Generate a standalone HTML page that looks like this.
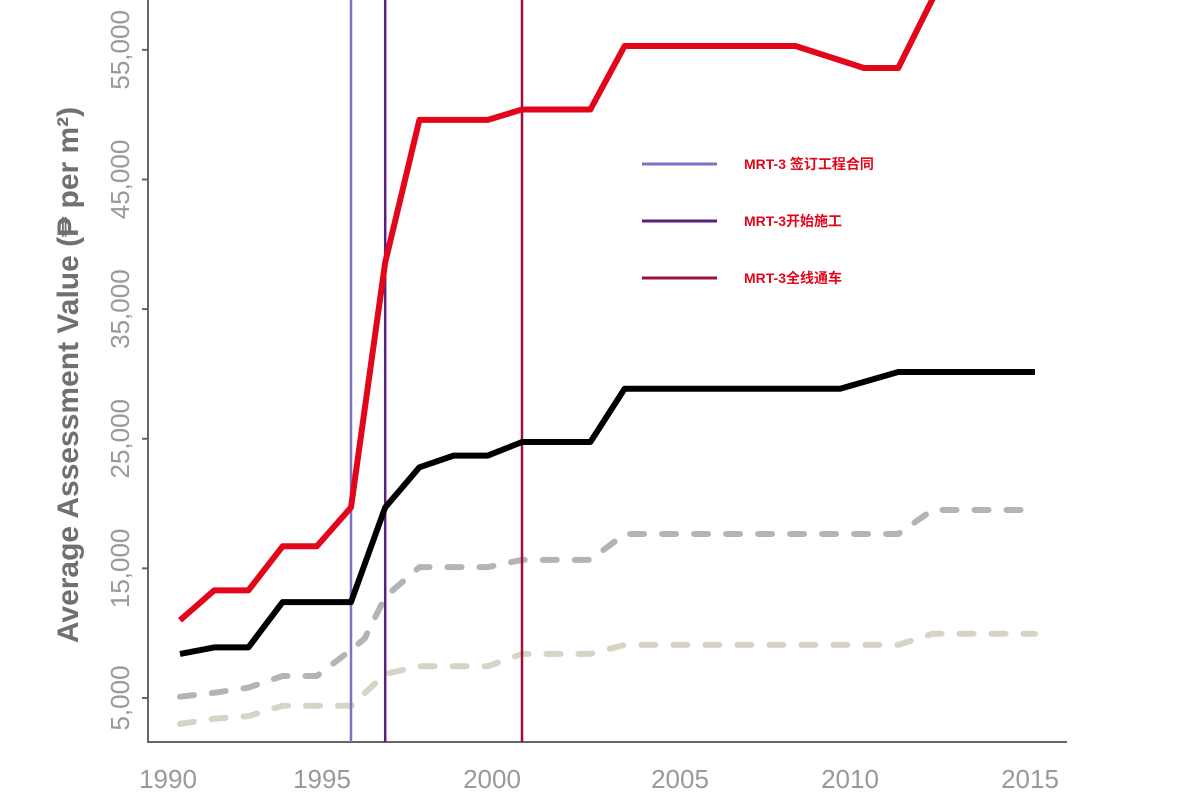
<!DOCTYPE html>
<html><head><meta charset="utf-8"><style>
html,body{margin:0;padding:0;background:#fff;}
svg{display:block;}
</style></head><body>
<svg id="chart" width="1194" height="796" xmlns="http://www.w3.org/2000/svg">
<defs><clipPath id="plotclip"><rect x="148" y="0" width="1000" height="742"/></clipPath></defs>
<g id="yaxis"></g>
<g id="xaxis"></g>
<g id="plot" clip-path="url(#plotclip)"></g>
<g id="legend"></g>
<text transform="translate(78,375) rotate(-90)" text-anchor="middle" font-family="Liberation Sans, sans-serif" font-size="30" font-weight="bold" fill="#707070">Average Assessment Value (₱ per m²)</text>
</svg>
<script>
const yTicks = [5000, 15000, 25000, 35000, 45000, 55000];
const yTickLabels = ["5,000", "15,000", "25,000", "35,000", "45,000", "55,000"];
const xTicks = [1990, 1995, 2000, 2005, 2010, 2015];
const xTickLabels = ["1990", "1995", "2000", "2005", "2010", "2015"];
const redYears = [1990, 1991, 1992, 1993, 1994, 1995, 1996, 1997, 1999, 2000, 2002, 2003, 2008, 2010, 2011, 2012, 2013];
const redValues = [11000, 13300, 13300, 16700, 16700, 19700, 38600, 49600, 49600, 50400, 50400, 55300, 55300, 53600, 53600, 58900, 64000];
const blackYears = [1990, 1991, 1992, 1993, 1994, 1995, 1996, 1997, 1998, 1999, 2000, 2002, 2003, 2009.3, 2011, 2015];
const blackValues = [8400, 8900, 8900, 12400, 12400, 12400, 19700, 22800, 23700, 23700, 24750, 24750, 28850, 28850, 30150, 30150];
const grayYears = [1990, 1991, 1992, 1993, 1994, 1995, 1995.4, 1996, 1997, 1999, 2000, 2002, 2003, 2011, 2012, 2015];
const grayValues = [5100, 5400, 5800, 6700, 6700, 8700, 9600, 12800, 15100, 15100, 15650, 15650, 17650, 17650, 19500, 19500];
const beigeYears = [1990, 1991, 1992, 1993, 1994, 1995, 1996, 1997, 1999, 2000, 2002, 2003, 2011, 2012, 2015];
const beigeValues = [3000, 3400, 3600, 4400, 4400, 4400, 6850, 7450, 7450, 8400, 8400, 9100, 9100, 9950, 9950];
const eventYears = [1995, 1996, 2000];
const eventLabels = ["MRT-3 签订工程合同", "MRT-3开始施工", "MRT-3全线通车"];
const eventColors = ["#8070c0", "#5a2080", "#9a1040"];

const NS = "http://www.w3.org/2000/svg";
function xs(yr){ return 180 + (yr - 1990) * 34.2; }
function ys(v){ return 698 - (v - 5000) * 0.012963; }
function mk(tag, attrs, parent){
  const e = document.createElementNS(NS, tag);
  for (const k in attrs) e.setAttribute(k, attrs[k]);
  parent.appendChild(e); return e;
}
const yaxis = document.getElementById('yaxis'), xaxis = document.getElementById('xaxis');
const plot = document.getElementById('plot'), legend = document.getElementById('legend');
const font = "Liberation Sans, sans-serif";

let l = mk('line', {x1:148, y1:0, x2:148, y2:743, stroke:'#666', 'stroke-width':2}, yaxis);


l = mk('line', {x1:147, y1:742, x2:1067, y2:742, stroke:'#666', 'stroke-width':2}, xaxis);



yTicks.forEach((v, i) => {
  const y = ys(v);
  const t = mk('line', {x1:142, y1:y, x2:148, y2:y, stroke:'#666', 'stroke-width':2}, yaxis);
  
  
  const tx = mk('text', {transform:`translate(129,${y}) rotate(-90)`, 'text-anchor':'middle', 'font-family':font, 'font-size':26, fill:'#999'}, yaxis);
  tx.textContent = yTickLabels[i];
  
  
});
const xLabelOffsets = [-12, -29, -30, -13, -14, -5];
xTicks.forEach((yr, i) => {
  const tx = mk('text', {x: xs(yr) + xLabelOffsets[i], y:788, 'text-anchor':'middle', 'font-family':font, 'font-size':26, fill:'#999'}, xaxis);
  tx.textContent = xTickLabels[i];
  
  
});

function series(years, vals, color, dash, name){
  const d = years.map((yr, i) => (i ? 'L' : 'M') + xs(yr).toFixed(1) + ',' + ys(vals[i]).toFixed(1)).join(' ');
  const p = mk('path', {d, fill:'none', stroke:color, 'stroke-width':6, 'stroke-linejoin':'round', 'stroke-linecap': dash ? 'round' : 'butt'}, plot);
  if (dash) p.setAttribute('stroke-dasharray', dash);
  
  
}
series(beigeYears, beigeValues, '#d8d4c4', '14 18', 'beige-dashed-series');
series(grayYears, grayValues, '#b4b4b8', '14 18', 'gray-dashed-series');
eventYears.forEach((yr, i) => {
  const v = mk('line', {x1:xs(yr), y1:0, x2:xs(yr), y2:742, stroke:eventColors[i], 'stroke-width':2.5}, plot);
  
  
});
series(blackYears, blackValues, '#000', null, 'black-series');
series(redYears, redValues, '#e3061a', null, 'red-series');

const legendY = [164, 221, 278];
eventLabels.forEach((lab, i) => {
  const ln = mk('line', {x1:642, y1:legendY[i], x2:717, y2:legendY[i], stroke:eventColors[i], 'stroke-width':3}, legend);
  
  
  const tx = mk('text', {x:744, y:legendY[i] + 5, 'font-family':'Liberation Sans, Noto Sans CJK SC, sans-serif', 'font-size':14, 'font-weight':'bold', fill:'#e3061a'}, legend);
  tx.textContent = lab;
  
  
});
</script>
</body></html>
